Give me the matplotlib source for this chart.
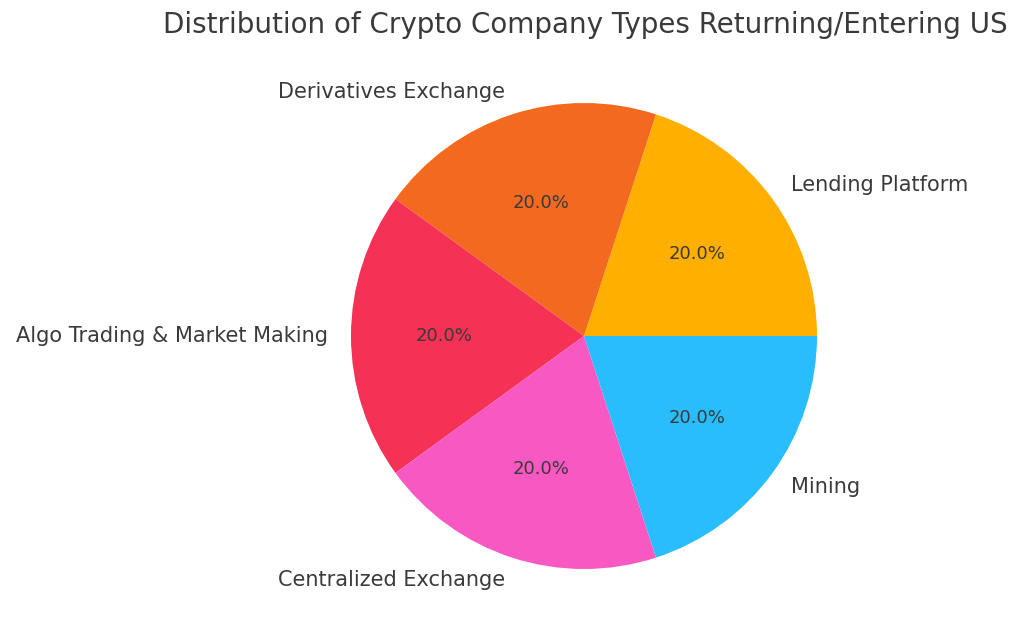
import matplotlib
matplotlib.use("Agg")
import matplotlib.pyplot as plt

company_types = ["Lending Platform", "Derivatives Exchange", "Algo Trading & Market Making",
                 "Centralized Exchange", "Mining"]
company_counts = [1, 1, 1, 1, 1]
slice_colours = ["#FFAF00", "#F46920", "#F53255", "#F858C1", "#29BDFD"]

text_colour = "#3a3a3a"

fig = plt.figure(figsize=(10.24, 6.4), dpi=100)
# pie centre ~ (584, 336) px, radius ~ 233 px
ax = fig.add_axes([(584 - 233) / 1024, (304 - 233) / 640, 466 / 1024, 466 / 640])
wedges, texts, autotexts = ax.pie(company_counts, labels=company_types, colors=slice_colours,
                                  autopct="%1.1f%%", startangle=0, counterclock=True,
                                  textprops={"color": text_colour})
for t in texts:
    t.set_fontsize(15)
for t in autotexts:
    t.set_fontsize(13)
ax.set_xlim(-1, 1)
ax.set_ylim(-1, 1)
ax.set_aspect("equal")
ax.axis("off")

fig.text(585 / 1024, 1 - 25 / 640, "Distribution of Crypto Company Types Returning/Entering US",
         ha="center", va="center", fontsize=20, color=text_colour)

fig.savefig("out.png", dpi=100)
